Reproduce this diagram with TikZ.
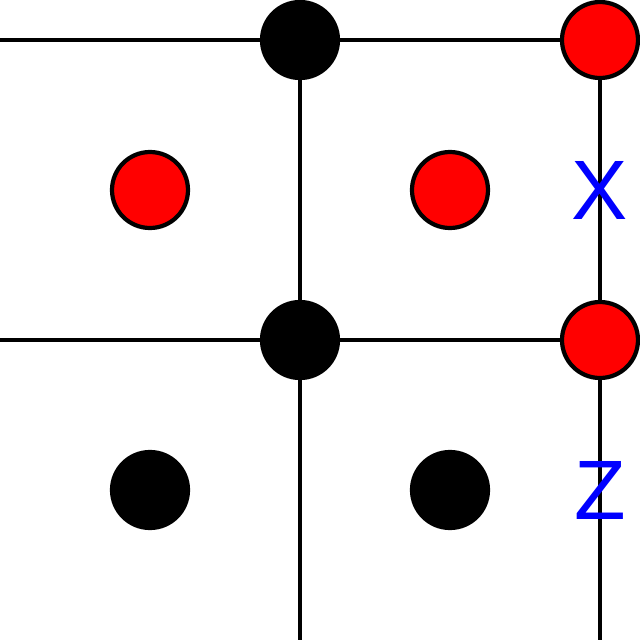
\documentclass[tikz,border=0pt]{standalone}
\usepackage{fontspec}
\setmainfont{Liberation Sans}
\tikzset{
  site/.style={circle,draw=black,line width=1.2pt,minimum size=0.76cm,inner sep=0pt},
  redsite/.style={site,fill=red},
  blacksite/.style={site,fill=black},
  label/.style={text=blue,font=\fontsize{24}{24}\selectfont}
}
\begin{document}
\begin{tikzpicture}[line width=1.2pt]
\useasboundingbox (0,0) rectangle (6.4,6.4);
\coordinate (l1) at (0,6.0); \coordinate (l2) at (0,3.0);
\coordinate (b1) at (3,0); \coordinate (b2) at (6,0);
\node[blacksite] (v1) at (3,6) {}; \node[blacksite] (v2) at (3,3) {};
\node[redsite] (r1) at (6,6) {}; \node[redsite] (r2) at (6,3) {};
\draw (l1) -- (v1) -- (r1); \draw (l2) -- (v2) -- (r2);
\draw (v1) -- (v2) -- (b1); \draw (r1) -- (r2) -- (b2);
\node[redsite] (p1) at (1.5,4.5) {}; \node[redsite] (p2) at (4.5,4.5) {};
\node[blacksite] (q1) at (1.5,1.5) {}; \node[blacksite] (q2) at (4.5,1.5) {};
\node[label] (x) at (6,4.5) {X};
\node[label] (z) at (6,1.5) {Z};
\end{tikzpicture}
\end{document}
